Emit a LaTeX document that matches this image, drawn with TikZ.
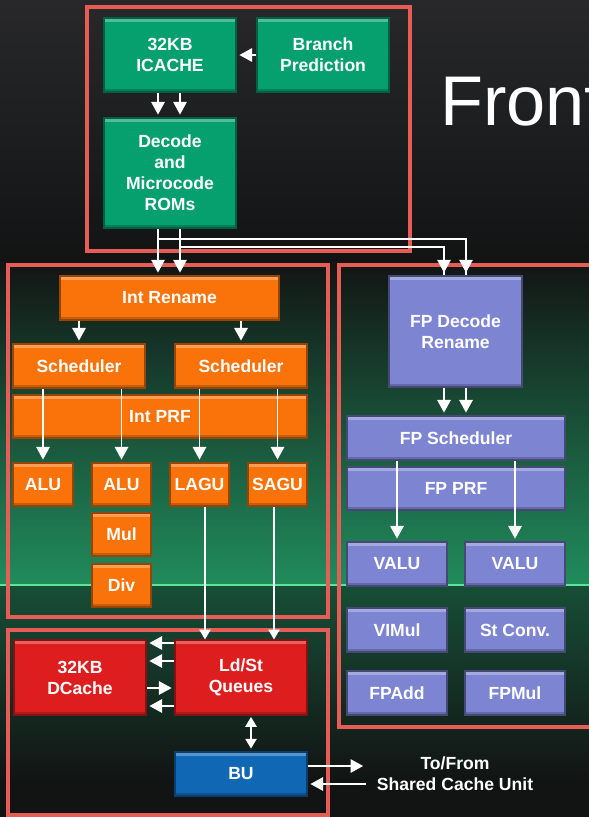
\documentclass[tikz,border=0pt]{standalone}
\usepackage{fontspec}
\setmainfont{Liberation Sans}
\usetikzlibrary{arrows.meta, positioning, calc}

\definecolor{fegreen}{RGB}{6,160,110}
\definecolor{intorange}{RGB}{250,115,10}
\definecolor{fppurple}{RGB}{125,133,210}
\definecolor{lsred}{RGB}{222,30,30}
\definecolor{bublue}{RGB}{16,104,180}
\definecolor{framered}{RGB}{232,92,86}
\definecolor{bgdark}{RGB}{18,20,20}
\definecolor{bgtop}{RGB}{40,40,42}
\definecolor{glow}{RGB}{32,140,92}
\definecolor{glowlow}{RGB}{22,78,54}
\definecolor{glowline}{RGB}{90,230,150}

\begin{document}
\begin{tikzpicture}[
    x=0.025cm, y=-0.025cm,
    % Define box styles
    unit/.style={
        rectangle,
        inner sep=0pt,
        text=white,
        align=center,
        line width=0.8pt,
        font=\bfseries\fontsize{12.5}{15}\selectfont,
        path picture={
            \fill[white, opacity=0.3] (path picture bounding box.north west)
                rectangle ([yshift=-2.5pt]path picture bounding box.north east);
            \fill[black, opacity=0.2] (path picture bounding box.south west)
                rectangle ([yshift=2pt]path picture bounding box.south east);
        }
    },
    feunit/.style={unit, fill=fegreen, draw=fegreen!60!black},
    intunit/.style={unit, fill=intorange, draw=intorange!60!black},
    fpunit/.style={unit, fill=fppurple, draw=fppurple!55!black},
    lsunit/.style={unit, fill=lsred, draw=lsred!60!black},
    buunit/.style={unit, fill=bublue, draw=bublue!60!black},
    frame/.style={draw=framered, line width=2.6pt},
    arr/.style={
        draw=white,
        line width=1.3pt,
        shorten >=2pt,
        -{Triangle[width=9.5pt,length=9pt]}
    },
    link/.style={draw=white, line width=0.9pt},
    dbl/.style={arr, shorten <=1pt, {Triangle[width=8pt,length=7pt]}-{Triangle[width=8pt,length=7pt]}}
]
    % =================================================================
    % --- Background ---
    % =================================================================
    \useasboundingbox (0,0) rectangle (589,817);
    \clip (0,0) rectangle (589,817);
    \fill[bgdark] (0,0) rectangle (589,817);
    \shade[top color=bgtop, bottom color=bgdark] (0,0) rectangle (589,260);
    \shade[top color=bgdark, bottom color=glow] (0,260) rectangle (589,585);
    \shade[top color=glowlow, bottom color=bgdark] (0,585) rectangle (589,780);
    \draw[glowline, line width=1pt] (0,585) -- (589,585);

    \node[anchor=base west, inner sep=0pt, text=white, font=\fontsize{50}{60}\selectfont] (title) at (440,125) {Front};

    % Section frames
    \draw[frame] (87,7) rectangle (410,251);
    \draw[frame] (8,265) rectangle (328,617);
    \draw[frame] (339,265) rectangle (600,727);
    \draw[frame] (8,630) rectangle (328,815);

    % =================================================================
    % --- Front end ---
    % =================================================================
    \node[feunit, minimum width=3.3cm, minimum height=1.85cm] (icache) at (170,55) {32KB\\ICACHE};
    \node[feunit, minimum width=3.3cm, minimum height=1.85cm] (branch) at (323,55) {Branch\\Prediction};
    \node[feunit, minimum width=3.3cm, minimum height=2.75cm] (decode) at (170,173) {Decode\\and\\Microcode\\ROMs};

    \draw[arr] (branch.west) -- (icache.east);
    \foreach \x in {158,180} {
        \draw[arr] (\x,0 |- icache.south) -- (\x,0 |- decode.north);
    }

    % =================================================================
    % --- Integer cluster ---
    % =================================================================
    \node[intunit, minimum width=5.475cm, minimum height=1.1cm] (intren) at (169.5,298) {Int Rename};
    \node[intunit, minimum width=3.3cm, minimum height=1.1cm] (sched1) at (79,366) {Scheduler};
    \node[intunit, minimum width=3.3cm, minimum height=1.1cm] (sched2) at (241,366) {Scheduler};
    \node[intunit, minimum width=7.35cm, minimum height=1.075cm] (intprf) at (160,416.5) {Int PRF};
    \node[intunit, minimum width=1.5cm, minimum height=1.075cm] (alu1) at (43,484.5) {ALU};
    \node[intunit, minimum width=1.475cm, minimum height=1.075cm] (alu2) at (121.5,484.5) {ALU};
    \node[intunit, minimum width=1.475cm, minimum height=1.075cm] (lagu) at (199.5,484.5) {LAGU};
    \node[intunit, minimum width=1.475cm, minimum height=1.075cm] (sagu) at (277.5,484.5) {SAGU};
    \node[intunit, minimum width=1.475cm, minimum height=1.075cm] (mul) at (121.5,534.5) {Mul};
    \node[intunit, minimum width=1.475cm, minimum height=1.075cm] (div) at (121.5,585.5) {Div};

    \draw[arr] (intren.south -| sched1) -- (sched1.north);
    \draw[arr] (intren.south -| sched2) -- (sched2.north);
    \draw[arr] (sched1.south -| alu1) -- (alu1.north);
    \draw[arr] (sched1.south -| alu2) -- (alu2.north);
    \draw[arr] (sched2.south -| lagu) -- (lagu.north);
    \draw[arr] (sched2.south -| sagu) -- (sagu.north);

    % =================================================================
    % --- FP cluster ---
    % =================================================================
    \node[fpunit, minimum width=3.325cm, minimum height=2.775cm] (fpdec) at (455.5,331.5) {FP Decode\\Rename};
    \node[fpunit, minimum width=5.45cm, minimum height=1.1cm] (fpsch) at (456,438) {FP Scheduler};
    \node[fpunit, minimum width=5.45cm, minimum height=1.075cm] (fpprf) at (456,488.5) {FP PRF};
    \node[fpunit, minimum width=2.5cm, minimum height=1.1cm] (valu1) at (397,564) {VALU};
    \node[fpunit, minimum width=2.5cm, minimum height=1.1cm] (valu2) at (515,564) {VALU};
    \node[fpunit, minimum width=2.5cm, minimum height=1.1cm] (vimul) at (397,630) {VIMul};
    \node[fpunit, minimum width=2.5cm, minimum height=1.1cm] (stconv) at (515,630) {St Conv.};
    \node[fpunit, minimum width=2.5cm, minimum height=1.1cm] (fpadd) at (397,693) {FPAdd};
    \node[fpunit, minimum width=2.5cm, minimum height=1.1cm] (fpmul) at (515,693) {FPMul};

    \foreach \x in {444,466} {
        \draw[arr] (\x,0 |- fpdec.south) -- (\x,0 |- fpsch.north);
    }
    \draw[arr] (fpsch.south -| valu1) -- (valu1.north);
    \draw[arr] (fpsch.south -| valu2) -- (valu2.north);

    % Dispatch from decode to both clusters
    \coordinate (split1) at (158,239);
    \coordinate (split2) at (180,247);
    \draw[link] (split1) -| (466,0 |- fpdec.north);
    \draw[link] (split2) -| (444,0 |- fpdec.north);
    \draw[arr, line width=0.9pt] (158,0 |- decode.south) -- (158,0 |- intren.north);
    \draw[arr, line width=0.9pt] (180,0 |- decode.south) -- (180,0 |- intren.north);
    \draw[arr, line width=0.9pt] (444,0 |- split2) -- (444,0 |- fpdec.north);
    \draw[arr, line width=0.9pt] (466,0 |- split1) -- (466,0 |- fpdec.north);

    % =================================================================
    % --- Load / store ---
    % =================================================================
    \node[lsunit, minimum width=3.3cm, minimum height=1.875cm] (dcache) at (80,677.5) {32KB\\DCache};
    \node[lsunit, minimum width=3.3cm, minimum height=1.875cm] (ldst) at (241,677.5) {Ld/St\\Queues};
    \node[buunit, minimum width=3.3cm, minimum height=1.1cm] (bu) at (241,774) {BU};

    \draw[link, -{Triangle[width=8pt,length=7pt]}] (205,0 |- lagu.south) -- (205,0 |- ldst.north);
    \draw[link, -{Triangle[width=8pt,length=7pt]}] (274,0 |- sagu.south) -- (274,0 |- ldst.north);

    \foreach \y in {643,661,706} {
        \draw[arr] (ldst.west |- 0,\y) -- (dcache.east |- 0,\y);
    }
    \draw[arr] (dcache.east |- 0,688) -- (ldst.west |- 0,688);
    \draw[dbl] (251,0 |- ldst.south) -- (251,0 |- bu.north);

    % Shared cache unit
    \node[text=white, align=center, font=\bfseries\fontsize{12.5}{15}\selectfont] (scu) at (455,774) {To/From\\Shared Cache Unit};
    \coordinate (scuout) at (366,766);
    \coordinate (scuin) at (366,784);
    \draw[arr] (bu.east |- scuout) -- (scuout);
    \draw[arr] (scuin) -- (bu.east |- scuin);
\end{tikzpicture}
\end{document}
